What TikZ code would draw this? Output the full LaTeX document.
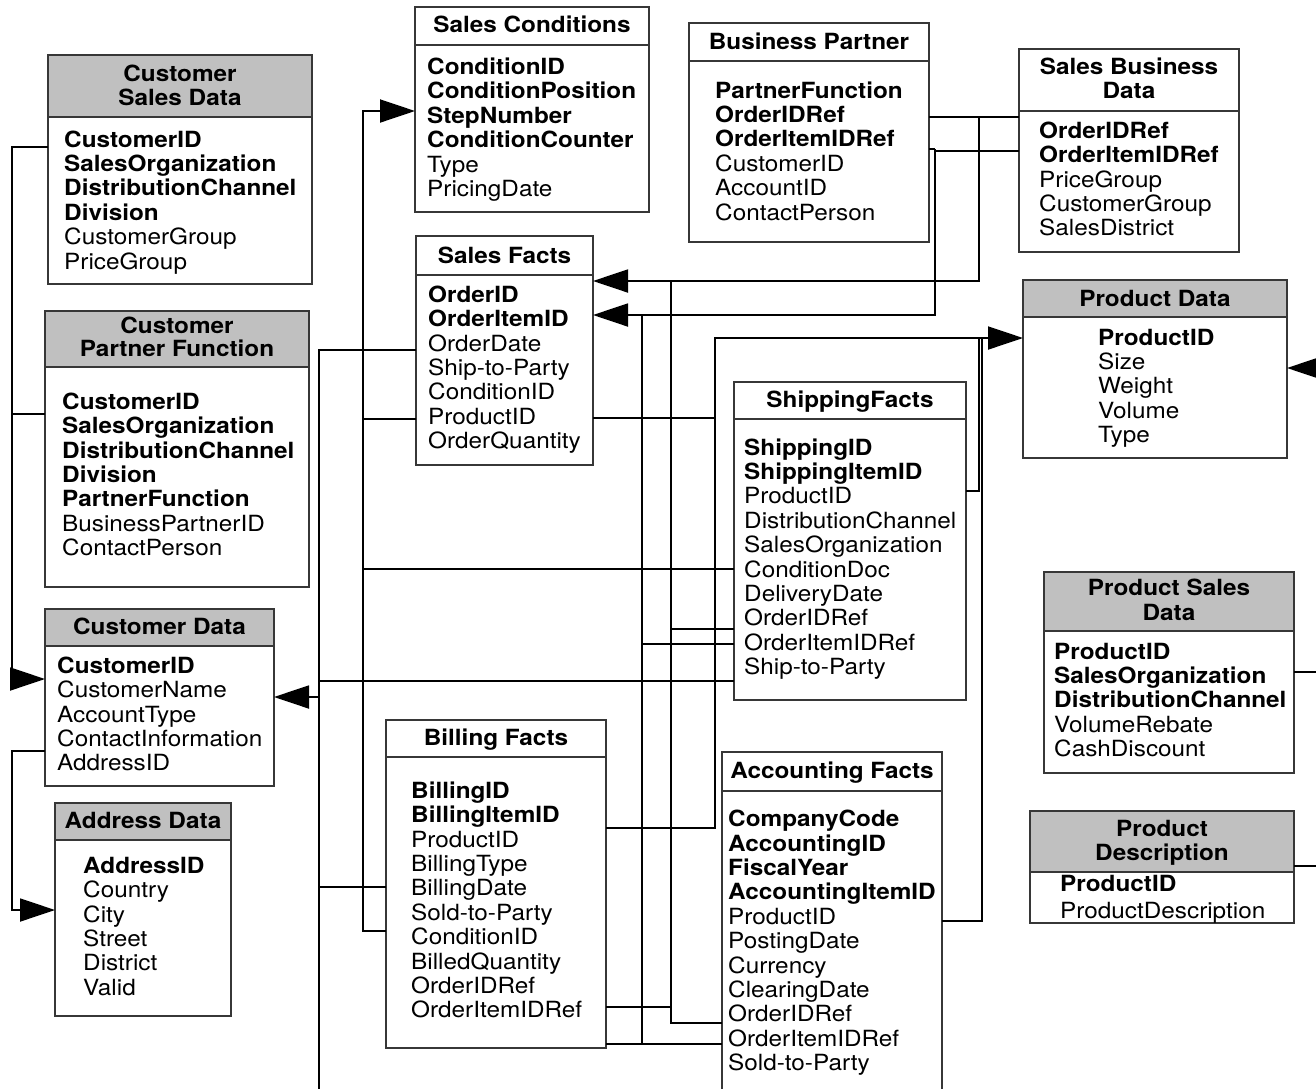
\documentclass[tikz,border=0pt]{standalone}
\usepackage{fontspec}
\setmainfont{TeX Gyre Heros}[FakeStretch=1.09]
\usetikzlibrary{arrows.meta}

\definecolor{hdrgray}{RGB}{192,192,192}
\definecolor{edgegray}{RGB}{55,55,55}

\newcommand{\bodyfont}{\fontsize{22.3}{24.4}\selectfont}

% table frame: name, x1, y1, x2, y2, y of header rule, header fill
\newcommand{\erbox}[7]{%
  \node[boxshape, minimum width={#4-#2}, minimum height={#5-#3}] (#1) at (#2,#3) {};
  \fill[#7] (#1.north west) rectangle (#1.east |- 0,#6);
  \draw[boxline] (#1.north west) rectangle (#1.south east)
                 (#1.west |- 0,#6) -- (#1.east |- 0,#6);
}
% attribute rows: name prefix, x, first baseline, pitch, list
\newcommand{\rowsat}[5]{%
  \foreach \txt [count=\i from 0] in {#5} {
    \node[fld] (#1\i) at (#2, #3+\i*#4) {\txt};
  }%
}

\tikzset{
  boxshape/.style={inner sep=0pt, outer sep=0pt, anchor=north west},
  boxline/.style={draw=edgegray, line width=1.3pt},
  ttl/.style={font=\bodyfont\bfseries, anchor=base, inner sep=0pt},
  fld/.style={font=\bodyfont, anchor=base west, inner sep=0pt},
  link/.style={line width=1.9pt, line join=miter},
  thinlink/.style={line width=1.2pt, line join=miter},
  arr/.style={link, -{Triangle[length=35pt,width=23pt]}},
}

\begin{document}
\begin{tikzpicture}[x=1pt, y=-1pt]
\useasboundingbox (0,0) rectangle (1316,1088);
\clip (0,0) rectangle (1316,1088);

% ---------------- tables ----------------
\erbox{csd}{48}{55}{312}{284}{117}{hdrgray}
\node[ttl] (csd-t1) at (180,81.5) {Customer};
\node[ttl] (csd-t2) at (180,105) {Sales Data};
\rowsat{csd-}{64}{147}{24.4}{{\bfseries CustomerID},{\bfseries SalesOrganization},{\bfseries DistributionChannel},{\bfseries Division},CustomerGroup,PriceGroup}

\erbox{cpf}{45}{311}{309}{587}{367}{hdrgray}
\node[ttl] (cpf-t1) at (177,333.3) {Customer};
\node[ttl] (cpf-t2) at (177,356.7) {Partner Function};
\rowsat{cpf-}{62}{409.3}{24.4}{{\bfseries CustomerID},{\bfseries SalesOrganization},{\bfseries DistributionChannel},{\bfseries Division},{\bfseries PartnerFunction},BusinessPartnerID,ContactPerson}

\erbox{cd}{45}{609}{274}{786}{646}{hdrgray}
\node[ttl] (cd-t) at (159.5,634.3) {Customer Data};
\rowsat{cd-}{57}{673.3}{24.4}{{\bfseries CustomerID},CustomerName,AccountType,ContactInformation,AddressID}

\erbox{ad}{55}{803}{231}{1016}{840}{hdrgray}
\node[ttl] (ad-t) at (143,828.3) {Address Data};
\rowsat{ad-}{83}{873.3}{24.4}{{\bfseries AddressID},Country,City,Street,District,Valid}

\erbox{sc}{415}{7}{649}{212}{45}{white}
\node[ttl] (sc-t) at (532,32.5) {Sales Conditions};
\rowsat{sc-}{427}{74.5}{24.4}{{\bfseries ConditionID},{\bfseries ConditionPosition},{\bfseries StepNumber},{\bfseries ConditionCounter},Type,PricingDate}

\erbox{bp}{689}{23}{929}{242}{61}{white}
\node[ttl] (bp-t) at (809,49) {Business Partner};
\rowsat{bp-}{715}{98}{24.4}{{\bfseries PartnerFunction},{\bfseries OrderIDRef},{\bfseries OrderItemIDRef},CustomerID,AccountID,ContactPerson}

\erbox{sbd}{1019}{49}{1239}{252}{111}{white}
\node[ttl] (sbd-t1) at (1129,74) {Sales Business};
\node[ttl] (sbd-t2) at (1129,98.3) {Data};
\rowsat{sbd-}{1039}{138.3}{24.4}{{\bfseries OrderIDRef},{\bfseries OrderItemIDRef},PriceGroup,CustomerGroup,SalesDistrict}

\erbox{pd}{1023}{280}{1287}{458}{317}{hdrgray}
\node[ttl] (pd-t) at (1155,306) {Product Data};
\rowsat{pd-}{1098}{345}{24.4}{{\bfseries ProductID},Size,Weight,Volume,Type}

\erbox{sf}{416}{236}{593}{465}{275}{white}
\node[ttl] (sf-t) at (504.5,263) {Sales Facts};
\rowsat{sf-}{428}{302.3}{24.4}{{\bfseries OrderID},{\bfseries OrderItemID},OrderDate,Ship-to-Party,ConditionID,ProductID,OrderQuantity}

\erbox{shf}{734}{382}{966}{700}{419}{white}
\node[ttl] (shf-t) at (850,407.7) {ShippingFacts};
\rowsat{shf-}{744}{455}{24.4}{{\bfseries ShippingID},{\bfseries ShippingItemID},ProductID,DistributionChannel,SalesOrganization,ConditionDoc,DeliveryDate,OrderIDRef,OrderItemIDRef,Ship-to-Party}

\erbox{bf}{386}{720}{606}{1048}{757}{white}
\node[ttl] (bf-t) at (496,745) {Billing Facts};
\rowsat{bf-}{411}{798.3}{24.4}{{\bfseries BillingID},{\bfseries BillingItemID},ProductID,BillingType,BillingDate,Sold-to-Party,ConditionID,BilledQuantity,OrderIDRef,OrderItemIDRef}

\erbox{af}{722}{752}{942}{1110}{791}{white}
\node[ttl] (af-t) at (832,778.3) {Accounting Facts};
\rowsat{af-}{728}{826.7}{24.4}{{\bfseries CompanyCode},{\bfseries AccountingID},{\bfseries FiscalYear},{\bfseries AccountingItemID},ProductID,PostingDate,Currency,ClearingDate,OrderIDRef,OrderItemIDRef,Sold-to-Party}

\erbox{psd}{1044}{572}{1294}{773}{631}{hdrgray}
\node[ttl] (psd-t1) at (1169,595) {Product Sales};
\node[ttl] (psd-t2) at (1169,620) {Data};
\rowsat{psd-}{1054}{659}{24.4}{{\bfseries ProductID},{\bfseries SalesOrganization},{\bfseries DistributionChannel},VolumeRebate,CashDiscount}

\erbox{pds}{1030}{811}{1294}{923}{872}{hdrgray}
\node[ttl] (pds-t1) at (1162,836.7) {Product};
\node[ttl] (pds-t2) at (1162,860) {Description};
\rowsat{pds-}{1060}{891.7}{26.6}{{\bfseries ProductID},ProductDescription}

% ---------------- free ends leaving the sheet ----------------
\coordinate (offBottom) at (319,1100);
\coordinate (offPD)     at (1330,368);
\coordinate (offPSD)    at (1330,672);
\coordinate (offPDS)    at (1330,866);

% ---------------- customer side ----------------
\draw[arr] (csd.west |- 0,147) -- (12,147) |- (cd.west |- 0,679);
\draw[link] (cpf.west |- 0,414) -- (12,414);
\draw[arr] (cd.west |- 0,751) -- (12,751) |- (ad.west |- 0,910);

% party references into Customer Data
\draw[link] (sf.west |- 0,350) -- (319,350) -- (offBottom);
\draw[link] (319,681) -- (shf.west |- 0,681);
\draw[arr]  (319,697) -- (cd.east |- 0,697);
\draw[link] (319,887) -- (bf.west |- 0,887);

% condition references into Sales Conditions
\draw[arr] (bf.west |- 0,931) -- (363,931) |- (sc.west |- 0,111);
\draw[link] (363,419) -- (sf.west |- 0,419);
\draw[link] (363,569) -- (shf.west |- 0,569);

% ---------------- product references ----------------
\draw[arr] (bf.east |- 0,828) -- (715,828) |- (pd.west |- 0,338);
\draw[thinlink] (sf.east |- 0,418) -- (715,418);
\draw[link] (shf.east |- 0,491) -- (979,491) -- (979,338);
\draw[link] (af.east |- 0,921) -- (982,921) -- (982,338);
\draw[arr] (offPD) -- (pd.east |- 0,368);
\draw[link] (psd.east |- 0,672) -- (offPSD);
\draw[link] (pds.east |- 0,866) -- (offPDS);

% ---------------- order keys into Sales Facts ----------------
\draw[arr] (bp.east |- 0,117) -- (979,117) -- (979,281) -- (sf.east |- 0,281);
\draw[link] (979,117) -- (sbd.west |- 0,117);
\draw[thinlink] (bp.east |- 0,149) -- (935,149);
\draw[arr] (935,149) -- (935,315) -- (sf.east |- 0,315);
\draw[link] (sbd.west |- 0,151) -- (935,151);

% order id bus
\draw[link] (671,281) -- (671,1023) -- (af.west |- 0,1023);
\draw[link] (671,629) -- (shf.west |- 0,629);
\draw[link] (bf.east |- 0,1007) -- (671,1007);

% order item id bus
\draw[link] (642,315) -- (642,1044);
\draw[link] (642,644) -- (shf.west |- 0,644);
\draw[link] (bf.east |- 0,1044) -- (af.west |- 0,1044);
\end{tikzpicture}
\end{document}
